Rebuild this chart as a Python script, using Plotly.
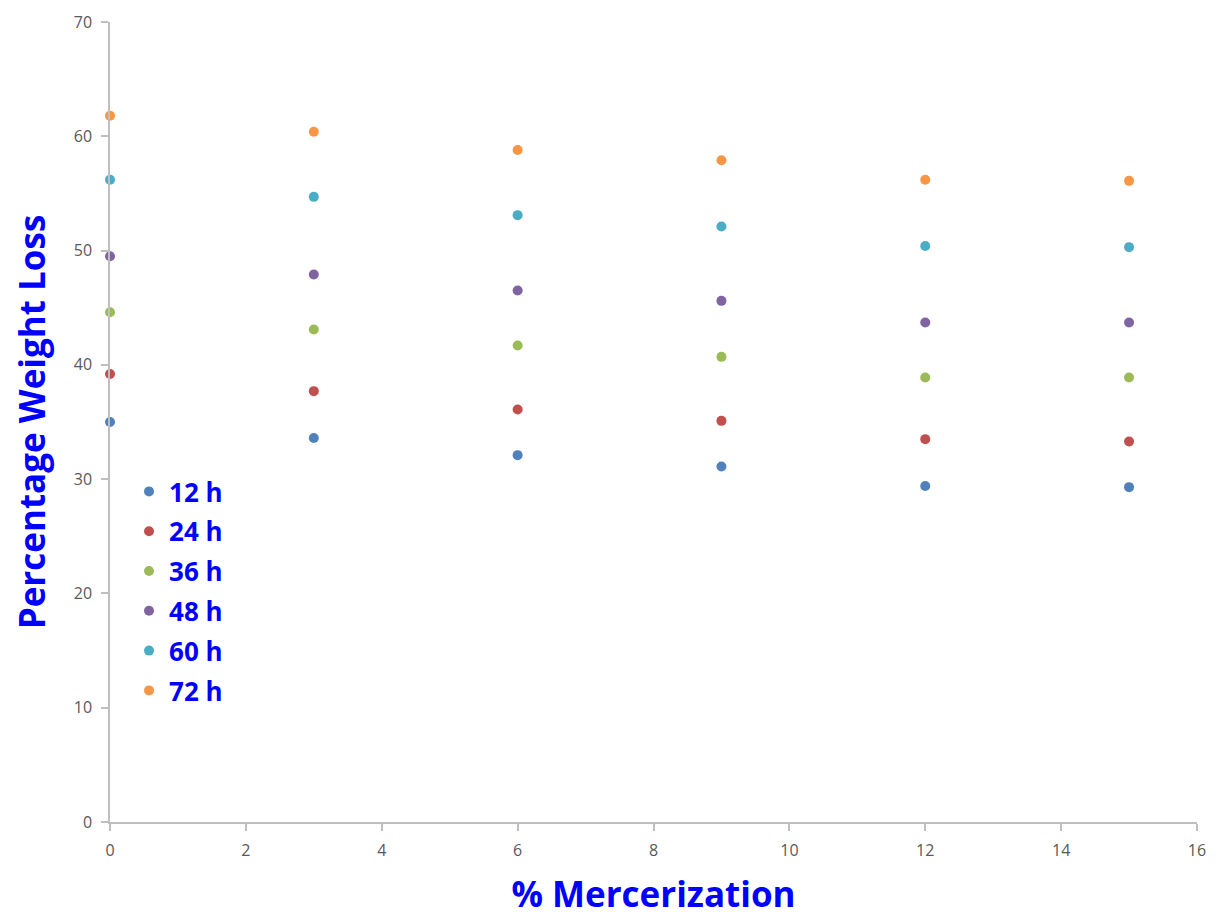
import plotly.graph_objects as go

mercerization = [0, 3, 6, 9, 12, 15]
series_names = ["12 h", "24 h", "36 h", "48 h", "60 h", "72 h"]
loss_12h = [35.0, 33.6, 32.1, 31.1, 29.4, 29.3]
loss_24h = [39.2, 37.7, 36.1, 35.1, 33.5, 33.3]
loss_36h = [44.6, 43.1, 41.7, 40.7, 38.9, 38.9]
loss_48h = [49.5, 47.9, 46.5, 45.6, 43.7, 43.7]
loss_60h = [56.2, 54.7, 53.1, 52.1, 50.4, 50.3]
loss_72h = [61.8, 60.4, 58.8, 57.9, 56.2, 56.1]
colors = ["#4F81BD", "#C0504D", "#9BBB59", "#8064A2", "#4BACC6", "#F79646"]

all_series = [loss_12h, loss_24h, loss_36h, loss_48h, loss_60h, loss_72h]

fig = go.Figure()
for name, vals, c in zip(series_names, all_series, colors):
    fig.add_trace(go.Scatter(
        x=mercerization, y=vals, mode="markers", name=name,
        legendgroup=name,
        marker=dict(color=c, size=10, line=dict(width=0)),
        cliponaxis=False,
    ))

axis_common = dict(
    showgrid=False, zeroline=False, showline=True,
    linecolor="#BFBFBF", linewidth=1.5,
    ticks="outside", ticklen=7, tickcolor="#BFBFBF", tickwidth=1.5,
    ticklabelstandoff=6, automargin=False,
    tickfont=dict(family="Open Sans, Liberation Sans, sans-serif", size=16, color="#595959"),
)

title_font = dict(family="Open Sans, sans-serif", size=35, color="#0000FF", weight="bold")

fig.update_layout(
    width=1219, height=917,
    paper_bgcolor="white", plot_bgcolor="white",
    margin=dict(l=102, r=30, t=14, b=103),
    xaxis=dict(range=[0, 16], dtick=2, **axis_common,
               title=dict(text="% Mercerization", standoff=23, font=title_font)),
    yaxis=dict(range=[0, 70], dtick=10, **axis_common,
               title=dict(text="Percentage Weight Loss", standoff=27, font=title_font)),
    legend=dict(x=0.0175, y=0.4425, xanchor="left", yanchor="top",
                bgcolor="rgba(0,0,0,0)", tracegroupgap=3,
                font=dict(family="Open Sans, sans-serif", size=26, color="#0000FF", weight="bold"),
                itemwidth=30),
    showlegend=True,
)

fig.write_html("out.html")
